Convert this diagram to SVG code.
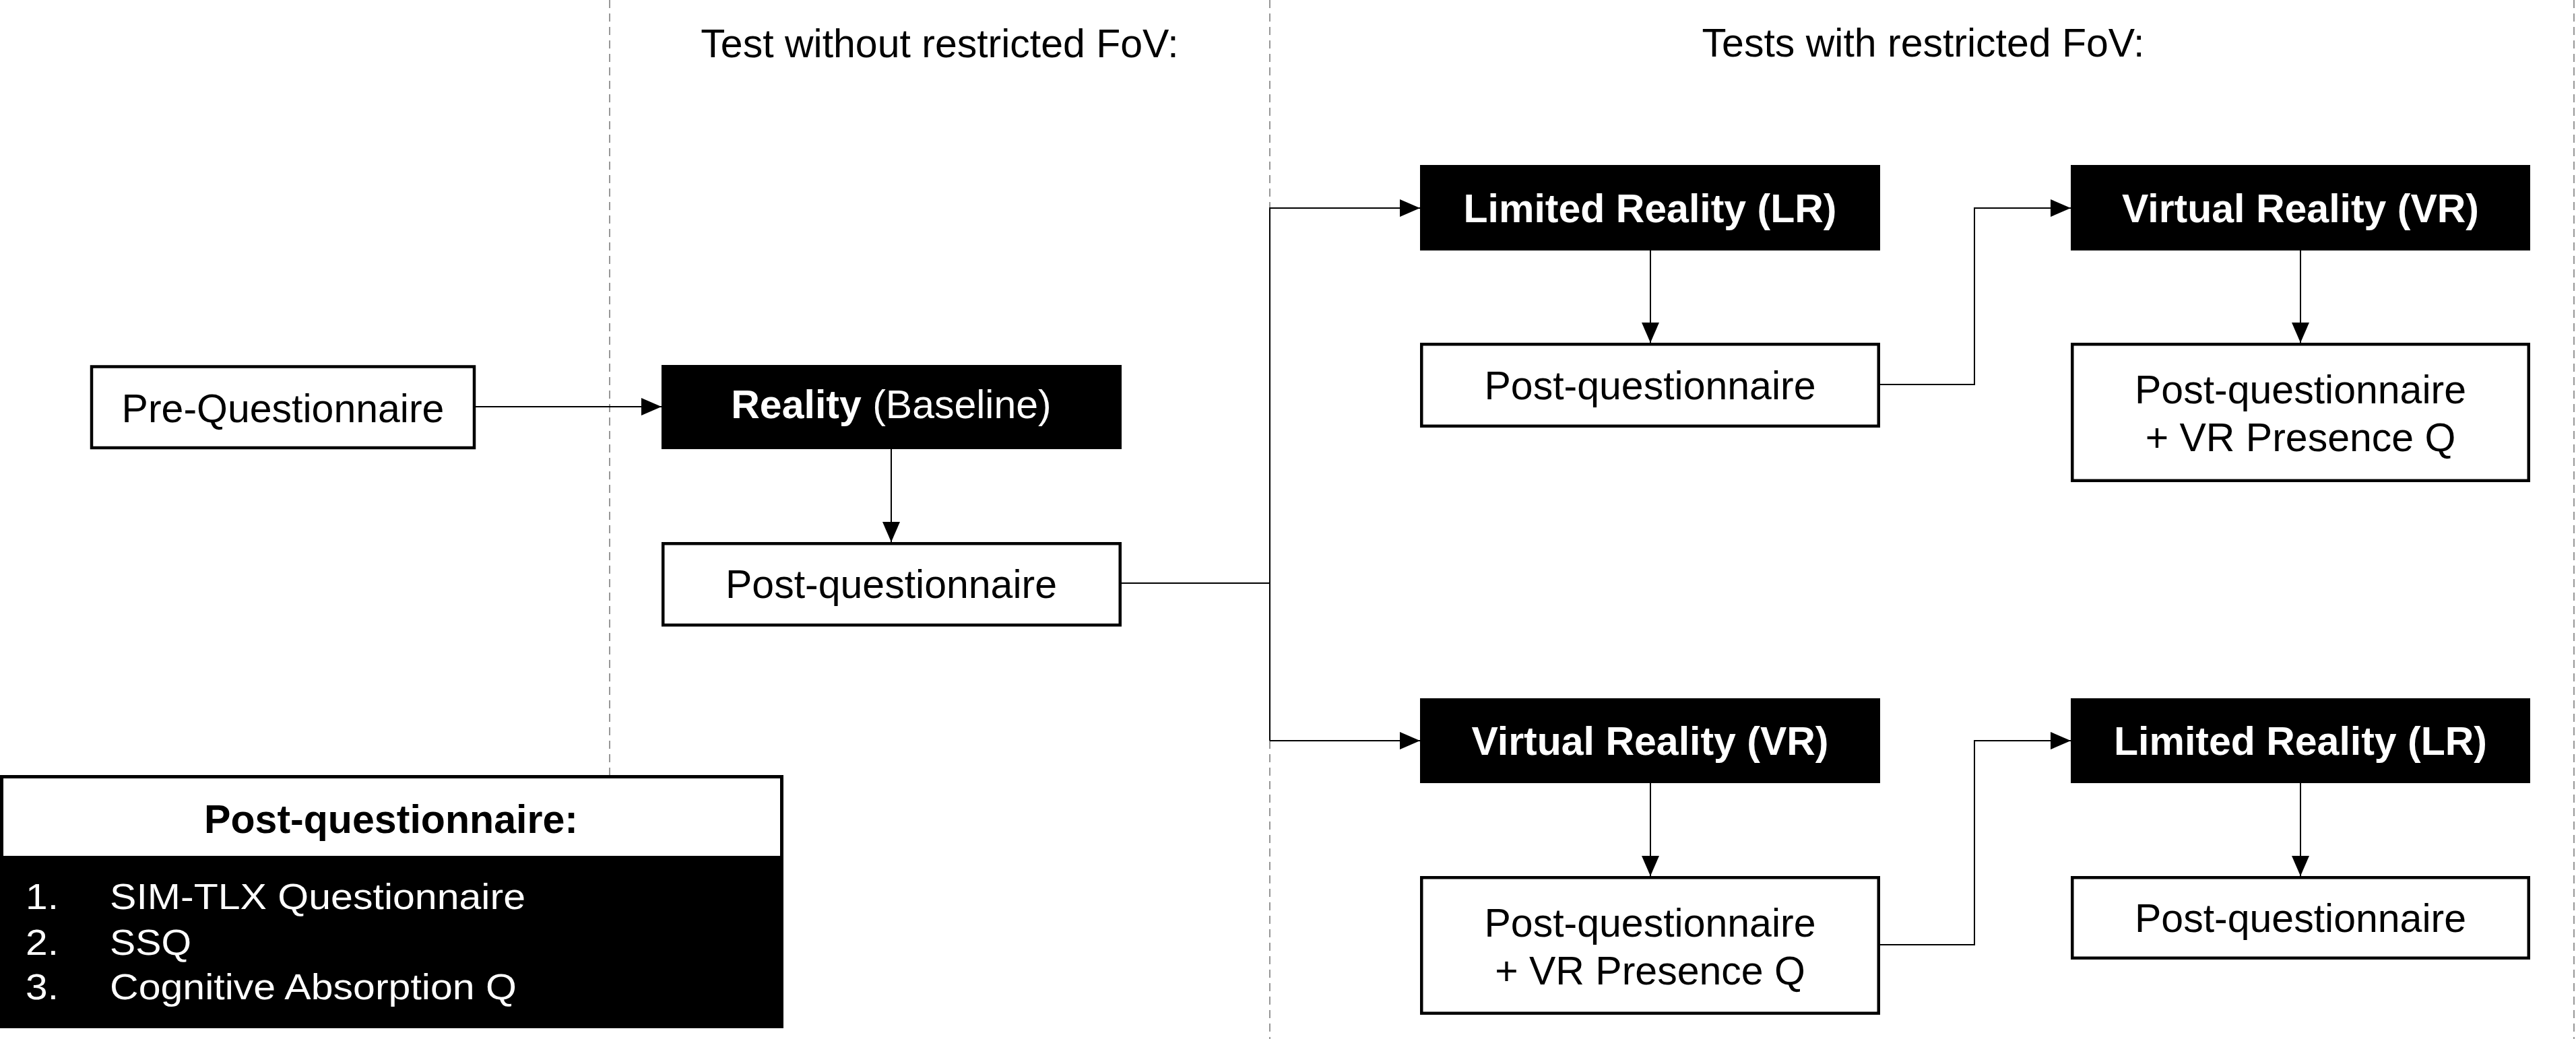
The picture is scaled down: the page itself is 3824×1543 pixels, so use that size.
<svg xmlns="http://www.w3.org/2000/svg" width="3824" height="1543" viewBox="0 0 3824 1543">
<style>
text{font-family:"Liberation Sans",Arial,Helvetica,sans-serif;font-size:59px}
.w{fill:#fff;stroke:#000;stroke-width:4.5}
.b{fill:#000}
.tb{fill:#fff;font-weight:bold;text-anchor:middle}
.t{fill:#000;text-anchor:middle}
.hd{fill:#000;text-anchor:middle}
.dash{stroke:#8c8c8c;stroke-width:1.8;stroke-dasharray:12 8;fill:none}
.c{stroke:#000;stroke-width:2;fill:none}
.lt{fill:#fff;font-size:54px}
</style>
<defs>
<marker id="ah" markerUnits="userSpaceOnUse" markerWidth="30" markerHeight="26" refX="30" refY="13" orient="auto">
<path d="M0,0 L30,13 L0,26 z" fill="#000"/>
</marker>
</defs>
<rect width="3824" height="1543" fill="#fff"/>

<g id="separators">
<line class="dash" x1="905" y1="0" x2="905" y2="1151"/>
<line class="dash" x1="1885" y1="0" x2="1885" y2="1543"/>
<line class="dash" x1="3821" y1="0" x2="3821" y2="1543"/>
</g>

<g id="headers">
<text class="hd" x="1395" y="85">Test without restricted FoV:</text>
<text class="hd" x="2855" y="84">Tests with restricted FoV:</text>
</g>

<g id="connectors">
<line class="c" x1="706" y1="604" x2="982" y2="604" marker-end="url(#ah)"/>
<line class="c" x1="1323" y1="667" x2="1323" y2="805" marker-end="url(#ah)"/>
<polyline class="c" points="1665,866 1885,866"/>
<polyline class="c" points="1885,1100 1885,309 2108,309" marker-end="url(#ah)"/>
<polyline class="c" points="1885,1100 2108,1100" marker-end="url(#ah)"/>
<line class="c" x1="2450" y1="372" x2="2450" y2="509" marker-end="url(#ah)"/>
<polyline class="c" points="2791,571 2931,571 2931,309 3074,309" marker-end="url(#ah)"/>
<line class="c" x1="3415" y1="372" x2="3415" y2="509" marker-end="url(#ah)"/>
<line class="c" x1="2450" y1="1163" x2="2450" y2="1301" marker-end="url(#ah)"/>
<polyline class="c" points="2791,1403 2931,1403 2931,1100 3074,1100" marker-end="url(#ah)"/>
<line class="c" x1="3415" y1="1163" x2="3415" y2="1301" marker-end="url(#ah)"/>
</g>

<g id="pre-questionnaire">
<rect class="w" x="136" y="544.5" width="568" height="120.5"/>
<text class="t" x="420" y="627">Pre-Questionnaire</text>
</g>

<g id="reality-baseline">
<rect class="b" x="982" y="542" width="683" height="125"/>
<text class="tb" x="1323" y="621" font-size="57"><tspan font-weight="bold">Reality</tspan><tspan font-weight="normal"> (Baseline)</tspan></text>
</g>

<g id="post-q-baseline">
<rect class="w" x="984.25" y="807.25" width="678.5" height="121"/>
<text class="t" x="1323" y="888">Post-questionnaire</text>
</g>

<g id="lr-top">
<rect class="b" x="2108" y="245" width="683" height="127"/>
<text class="tb" x="2449.5" y="330">Limited Reality (LR)</text>
</g>

<g id="post-q-lr-top">
<rect class="w" x="2110.25" y="511.25" width="678.5" height="121.5"/>
<text class="t" x="2449.5" y="593">Post-questionnaire</text>
</g>

<g id="vr-top">
<rect class="b" x="3074" y="245" width="682" height="127"/>
<text class="tb" x="3415" y="330">Virtual Reality (VR)</text>
</g>

<g id="post-q-vr-top">
<rect class="w" x="3076.25" y="511.25" width="677.5" height="202.5"/>
<text class="t" x="3415" y="599">Post-questionnaire</text>
<text class="t" x="3415" y="670">+ VR Presence Q</text>
</g>

<g id="vr-bottom">
<rect class="b" x="2108" y="1037" width="683" height="126"/>
<text class="tb" x="2449.5" y="1121">Virtual Reality (VR)</text>
</g>

<g id="post-q-vr-bottom">
<rect class="w" x="2110.25" y="1303.25" width="678.5" height="201.5"/>
<text class="t" x="2449.5" y="1391">Post-questionnaire</text>
<text class="t" x="2449.5" y="1462">+ VR Presence Q</text>
</g>

<g id="lr-bottom">
<rect class="b" x="3074" y="1037" width="682" height="126"/>
<text class="tb" x="3415" y="1121">Limited Reality (LR)</text>
</g>

<g id="post-q-lr-bottom">
<rect class="w" x="3076.25" y="1303.25" width="677.5" height="119.5"/>
<text class="t" x="3415" y="1384">Post-questionnaire</text>
</g>

<g id="legend">
<rect x="2.5" y="1153.5" width="1158" height="120" fill="#fff" stroke="#000" stroke-width="5"/>
<rect class="b" x="0" y="1272" width="1163" height="255"/>
<text x="303" y="1237" font-size="52" font-weight="bold" fill="#000" textLength="555" lengthAdjust="spacingAndGlyphs">Post-questionnaire:</text>
<text class="lt" x="38" y="1350" textLength="49" lengthAdjust="spacingAndGlyphs">1.</text>
<text class="lt" x="163" y="1350" textLength="617" lengthAdjust="spacingAndGlyphs">SIM-TLX Questionnaire</text>
<text class="lt" x="38" y="1418" textLength="49" lengthAdjust="spacingAndGlyphs">2.</text>
<text class="lt" x="163" y="1418" textLength="121" lengthAdjust="spacingAndGlyphs">SSQ</text>
<text class="lt" x="38" y="1484" textLength="49" lengthAdjust="spacingAndGlyphs">3.</text>
<text class="lt" x="163" y="1484" textLength="604" lengthAdjust="spacingAndGlyphs">Cognitive Absorption Q</text>
</g>
</svg>
